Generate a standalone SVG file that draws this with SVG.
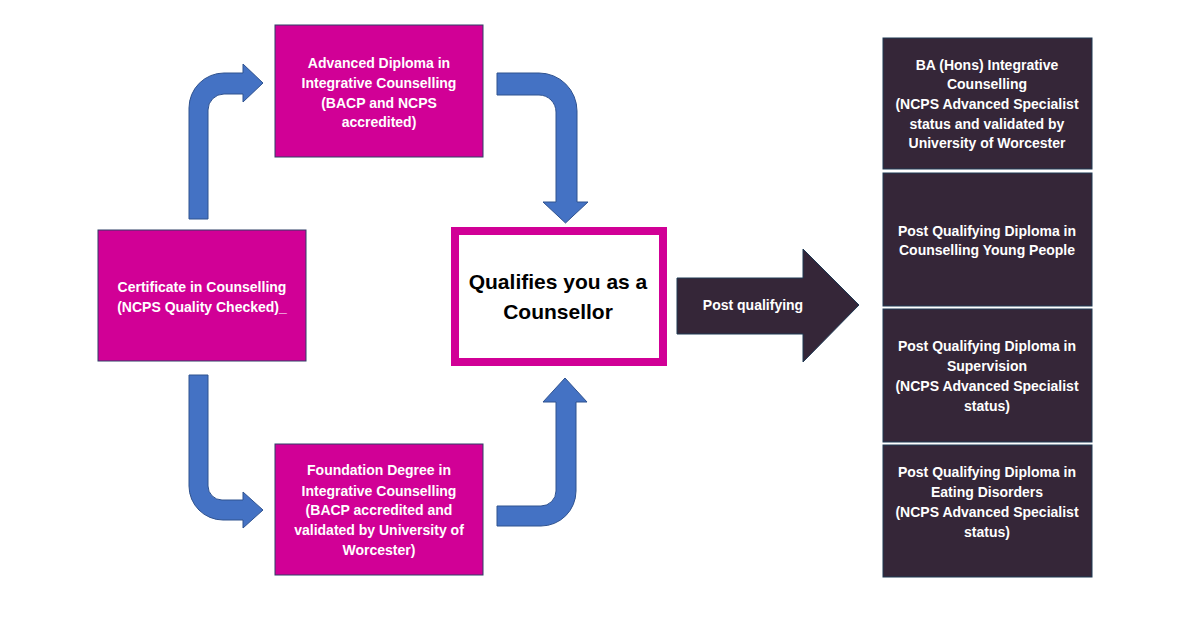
<svg xmlns="http://www.w3.org/2000/svg" width="1198" height="640" viewBox="0 0 1198 640">
<style>
.pink{fill:#D10096;stroke:#2F3F66;stroke-width:1}
.dark{fill:#352638;stroke:#1F3A55;stroke-width:1}
.arrow{fill:#4472C4;stroke:#2F528F;stroke-width:1}
.wt{font-family:"Liberation Sans",Arial,sans-serif;font-weight:bold;font-size:14px;fill:#ffffff;text-anchor:middle}
.bt{font-family:"Liberation Sans",Arial,sans-serif;font-weight:bold;font-size:21px;fill:#000000;text-anchor:middle}
</style>
<rect width="1198" height="640" fill="#ffffff"/>
<g id="connectors">
<path class="arrow" d="M189,219 L189,108 A35,35 0 0 1 224,73 L243,73 L243,64 L263,83 L243,102 L243,94 L224,94 A16,16 0 0 0 208,110 L208,219 Z"/>
<path class="arrow" d="M497,73 L539,73 A38,38 0 0 1 577,111 L577,202 L588,202 L565.5,223 L543,202 L556,202 L556,112 A17,17 0 0 0 539,95 L497,95 Z"/>
<path class="arrow" d="M189,375 L208,375 L208,486 A14,14 0 0 0 222,500 L243,500 L243,492 L263,510 L243,528 L243,520 L223,520 A34,34 0 0 1 189,486 Z"/>
<path class="arrow" d="M497,506 L541,506 A15,15 0 0 0 556,491 L556,402 L543,402 L565,378 L587,402 L576,402 L576,491 A35,35 0 0 1 541,526 L497,526 Z"/>
<path id="post-arrow" class="dark" d="M677,278 L803,278 L803,249 L859,305 L803,362 L803,334 L677,334 Z"/>
<text class="wt" x="753" y="310">Post qualifying</text>
</g>
<g id="advanced">
<rect class="pink" x="275" y="25" width="208" height="132"/>
<text class="wt" x="379" y="68">Advanced Diploma in</text>
<text class="wt" x="379" y="88">Integrative Counselling</text>
<text class="wt" x="379" y="108">(BACP and NCPS</text>
<text class="wt" x="379" y="127">accredited)</text>
</g>
<g id="certificate">
<rect class="pink" x="98" y="230" width="208" height="131"/>
<text class="wt" x="202" y="292">Certificate in Counselling</text>
<text class="wt" x="202" y="312">(NCPS Quality Checked)_</text>
</g>
<g id="qualifies">
<rect x="455" y="231" width="208" height="131" fill="#ffffff" stroke="#D10096" stroke-width="8"/>
<text class="bt" x="558" y="289">Qualifies you as a</text>
<text class="bt" x="558" y="319">Counsellor</text>
</g>
<g id="foundation">
<rect class="pink" x="275" y="444" width="208" height="131"/>
<text class="wt" x="379" y="475">Foundation Degree in</text>
<text class="wt" x="379" y="496">Integrative Counselling</text>
<text class="wt" x="379" y="515">(BACP accredited and</text>
<text class="wt" x="379" y="535">validated by University of</text>
<text class="wt" x="379" y="555">Worcester)</text>
</g>
<g id="ba-hons">
<rect class="dark" x="883" y="38" width="209" height="131"/>
<text class="wt" x="987" y="70">BA (Hons) Integrative</text>
<text class="wt" x="987" y="89">Counselling</text>
<text class="wt" x="987" y="109">(NCPS Advanced Specialist</text>
<text class="wt" x="987" y="129">status and validated by</text>
<text class="wt" x="987" y="148">University of Worcester</text>
</g>
<g id="pq-young-people">
<rect class="dark" x="883" y="173" width="209" height="133"/>
<text class="wt" x="987" y="236">Post Qualifying Diploma in</text>
<text class="wt" x="987" y="255">Counselling Young People</text>
</g>
<g id="pq-supervision">
<rect class="dark" x="883" y="309" width="209" height="133"/>
<text class="wt" x="987" y="351">Post Qualifying Diploma in</text>
<text class="wt" x="987" y="371">Supervision</text>
<text class="wt" x="987" y="391">(NCPS Advanced Specialist</text>
<text class="wt" x="987" y="411">status)</text>
</g>
<g id="pq-eating-disorders">
<rect class="dark" x="883" y="445" width="209" height="132"/>
<text class="wt" x="987" y="477">Post Qualifying Diploma in</text>
<text class="wt" x="987" y="497">Eating Disorders</text>
<text class="wt" x="987" y="517">(NCPS Advanced Specialist</text>
<text class="wt" x="987" y="537">status)</text>
</g>
</svg>
